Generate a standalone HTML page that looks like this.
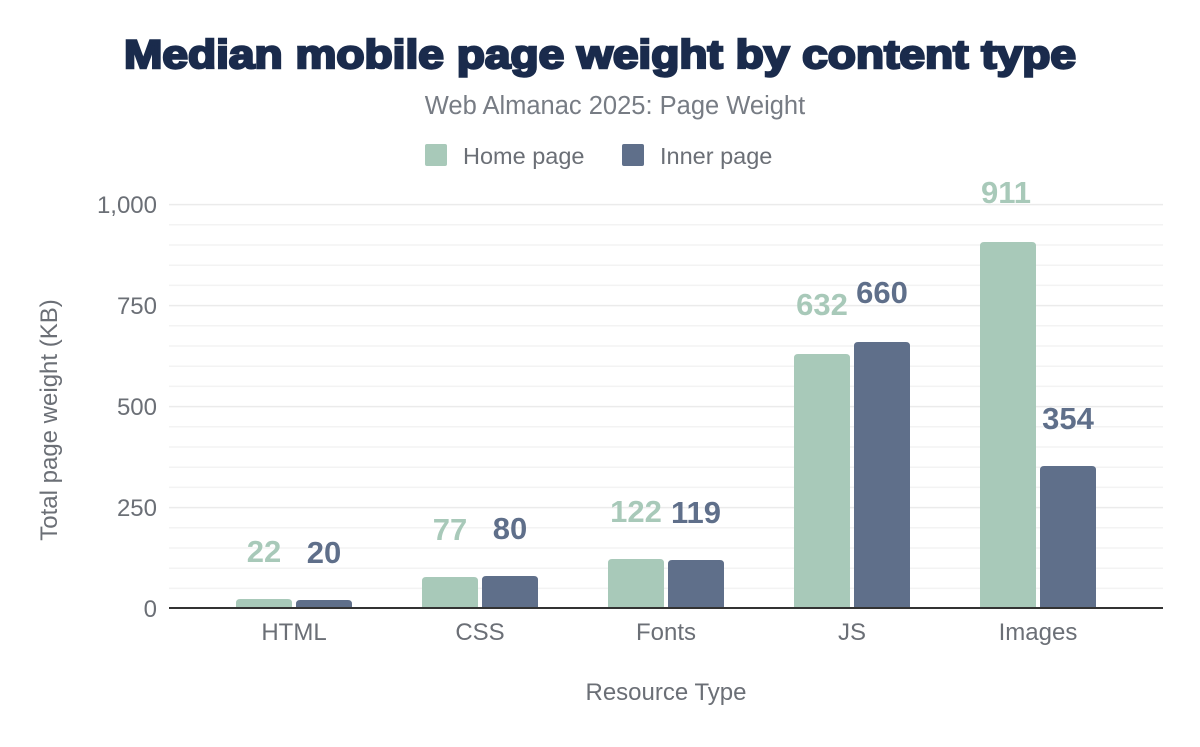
<!DOCTYPE html>
<html><head><style>
body{margin:0;background:#fff;}
svg text{font-family:"Liberation Sans",Arial,sans-serif;}
</style></head><body>
<svg width="1200" height="742" xmlns="http://www.w3.org/2000/svg">
<text x="124" y="68" textLength="952" lengthAdjust="spacingAndGlyphs" font-size="40" font-weight="900" fill="#1a2b4c" stroke="#1a2b4c" stroke-width="2.4">Median mobile page weight by content type</text>
<text x="615" y="114" text-anchor="middle" font-size="25.5" fill="#777c84">Web Almanac 2025: Page Weight</text>
<rect x="425" y="144" width="22" height="22" rx="2" fill="#a8c9b9"/>
<text x="463" y="164" font-size="23.5" fill="#6b6f76">Home page</text>
<rect x="622" y="144" width="22" height="22" rx="2" fill="#5f6f8a"/>
<text x="660" y="164" font-size="23.5" fill="#6b6f76">Inner page</text>
<g stroke="#f3f3f3" stroke-width="1.5">
<line x1="169" x2="1163" y1="224.8" y2="224.8"/><line x1="169" x2="1163" y1="245" y2="245"/><line x1="169" x2="1163" y1="265.2" y2="265.2"/><line x1="169" x2="1163" y1="285.4" y2="285.4"/>
<line x1="169" x2="1163" y1="325.8" y2="325.8"/><line x1="169" x2="1163" y1="346" y2="346"/><line x1="169" x2="1163" y1="366.2" y2="366.2"/><line x1="169" x2="1163" y1="386.4" y2="386.4"/>
<line x1="169" x2="1163" y1="426.8" y2="426.8"/><line x1="169" x2="1163" y1="447" y2="447"/><line x1="169" x2="1163" y1="467.2" y2="467.2"/><line x1="169" x2="1163" y1="487.4" y2="487.4"/>
<line x1="169" x2="1163" y1="527.8" y2="527.8"/><line x1="169" x2="1163" y1="548" y2="548"/><line x1="169" x2="1163" y1="568.2" y2="568.2"/><line x1="169" x2="1163" y1="588.4" y2="588.4"/>
</g>
<g stroke="#ebebeb" stroke-width="1.5">
<line x1="169" x2="1163" y1="204.6" y2="204.6"/><line x1="169" x2="1163" y1="305.6" y2="305.6"/><line x1="169" x2="1163" y1="406.6" y2="406.6"/><line x1="169" x2="1163" y1="507.6" y2="507.6"/>
</g>
<g font-size="24" fill="#6b6f76" text-anchor="end">
<text x="157" y="213">1,000</text><text x="157" y="314">750</text><text x="157" y="415">500</text><text x="157" y="516">250</text><text x="157" y="617">0</text>
</g>
<text transform="translate(57,420) rotate(-90)" text-anchor="middle" font-size="24" fill="#6b6f76">Total page weight (KB)</text>
<g fill="#a8c9b9">
<path d="M236,608V603q0-4 4-4H288q4,0 4,4V608Z"/>
<path d="M422,608V581q0-4 4-4H474q4,0 4,4V608Z"/>
<path d="M608,608V563q0-4 4-4H660q4,0 4,4V608Z"/>
<path d="M794,608V358q0-4 4-4H846q4,0 4,4V608Z"/>
<path d="M980,608V246q0-4 4-4H1032q4,0 4,4V608Z"/>
</g>
<g fill="#5f6f8a">
<path d="M296,608V604q0-4 4-4H348q4,0 4,4V608Z"/>
<path d="M482,608V580q0-4 4-4H534q4,0 4,4V608Z"/>
<path d="M668,608V564q0-4 4-4H720q4,0 4,4V608Z"/>
<path d="M854,608V346q0-4 4-4H906q4,0 4,4V608Z"/>
<path d="M1040,608V470q0-4 4-4H1092q4,0 4,4V608Z"/>
</g>
<line x1="169" x2="1163" y1="608" y2="608" stroke="#333" stroke-width="2"/>
<g font-size="31" font-weight="bold" text-anchor="middle" fill="#a8c9b9">
<text x="264" y="562">22</text><text x="450" y="540">77</text><text x="636" y="522">122</text><text x="822" y="315">632</text><text x="1006" y="203">911</text>
</g>
<g font-size="31" font-weight="bold" text-anchor="middle" fill="#5f6f8a">
<text x="324" y="563">20</text><text x="510" y="539">80</text><text x="696" y="523">119</text><text x="882" y="303">660</text><text x="1068" y="429">354</text>
</g>
<g font-size="24" fill="#6b6f76" text-anchor="middle">
<text x="294" y="640">HTML</text><text x="480" y="640">CSS</text><text x="666" y="640">Fonts</text><text x="852" y="640">JS</text><text x="1038" y="640">Images</text>
</g>
<text x="666" y="700" text-anchor="middle" font-size="24" fill="#6b6f76">Resource Type</text>
</svg>
</body></html>
